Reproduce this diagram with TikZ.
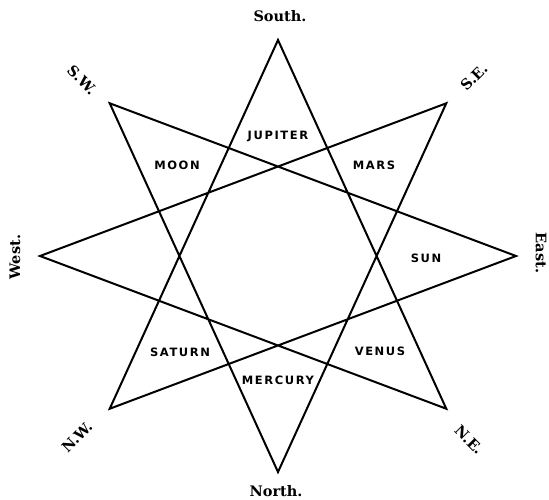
\documentclass[tikz,border=0pt]{standalone}
\usepackage{fontspec}
\newfontfamily\pointfont{DejaVu Serif}
\newfontfamily\planetfont[LetterSpace=14]{DejaVu Sans}

\begin{document}
\begin{tikzpicture}[x=1pt,y=-1pt,
  point/.style={font=\pointfont\bfseries\fontsize{14.5}{14.5}\selectfont, inner sep=1pt},
  planet/.style={font=\planetfont\bfseries\fontsize{11.5}{11.5}\selectfont, inner sep=1pt}]
  \useasboundingbox (0,0) rectangle (549,499);
  % the eight points of the star
  \foreach \n/\a in {S/90,SE/45,E/0,NE/-45,N/-90,NW/-135,W/180,SW/135}
    \coordinate (\n) at ({278+238*cos(\a)},{256-216*sin(\a)});
  \draw[line width=2pt] (S) -- (NE) -- (W) -- (SE) -- (N) -- (SW) -- (E) -- (NW) -- cycle;
  % quarters
  \node[point] (south) at (280,16) {South.};
  \node[point] (north) at (276,491) {North.};
  \node[point,rotate=90] (west) at (15,257) {West.};
  \node[point,rotate=-90] (east) at (541,253) {East.};
  \node[point,rotate=-45] (sw) at (82,80) {S.W.};
  \node[point,rotate=45] (se) at (474,77) {S.E.};
  \node[point,rotate=45] (nw) at (77,437) {N.W.};
  \node[point,rotate=-45] (ne) at (469,440) {N.E.};
  % planets
  \node[planet] (jupiter) at (278,136) {JUPITER};
  \node[planet] (moon) at (177,165) {MOON};
  \node[planet] (mars) at (374,165) {MARS};
  \node[planet] (sun) at (426,258) {SUN};
  \node[planet] (saturn) at (180,352) {SATURN};
  \node[planet] (venus) at (380,351) {VENUS};
  \node[planet] (mercury) at (278,380) {MERCURY};
\end{tikzpicture}
\end{document}
